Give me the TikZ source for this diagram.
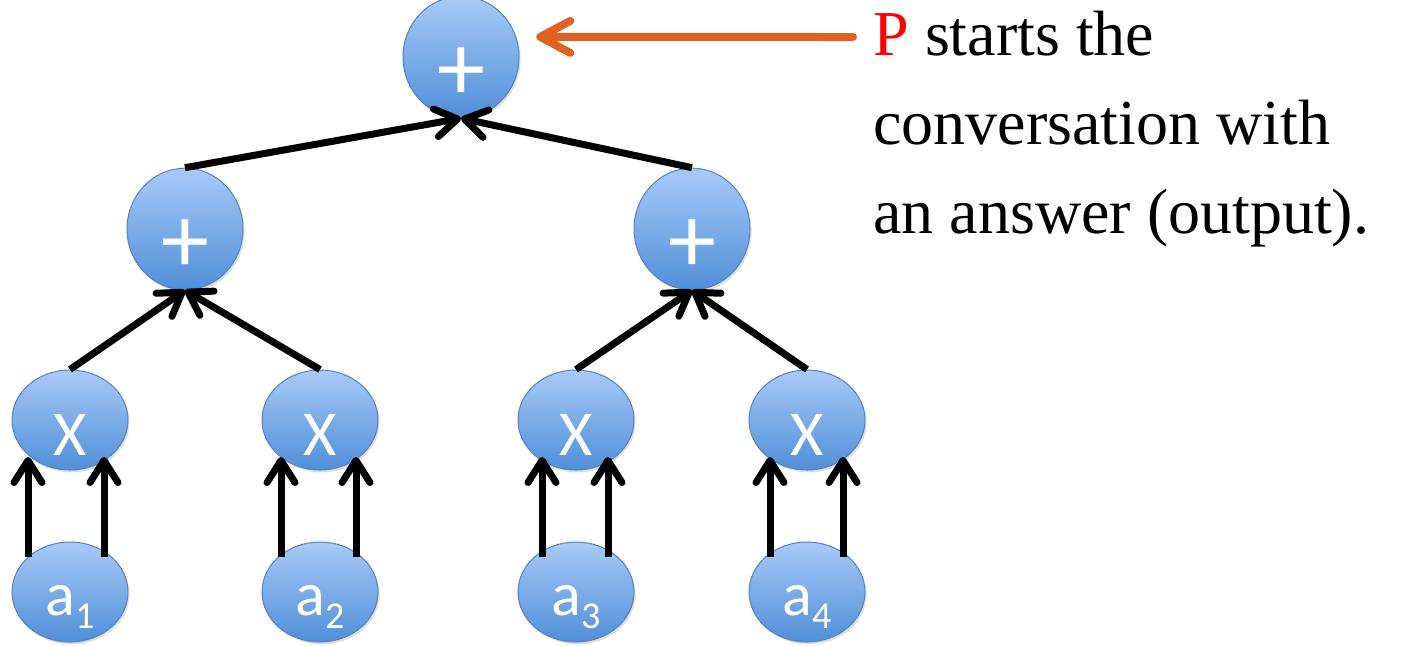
\documentclass[tikz,border=0pt]{standalone}
\usepackage{fontspec}
\setmainfont{Liberation Serif}
\newfontfamily\nodefont{Carlito}
\usetikzlibrary{arrows.meta,shadows,calc,shapes.geometric}
\definecolor{ntop}{RGB}{168,202,248}
\definecolor{nbot}{RGB}{80,143,216}
\definecolor{nborder}{RGB}{84,130,196}
\definecolor{oarrow}{RGB}{224,98,32}
\definecolor{pred}{RGB}{255,0,0}
\begin{document}
\begin{tikzpicture}[x=0.5pt,y=-0.5pt,
  bubble/.style={ellipse, minimum width=58pt, minimum height=50pt, inner sep=0pt,
    top color=ntop, bottom color=nbot, draw=nborder, line width=0.5pt, text=white,
    drop shadow={shadow xshift=0.8pt, shadow yshift=-1.2pt, opacity=0.25}},
  plusnode/.style={bubble, font=\nodefont\fontsize{48}{48}\selectfont, text height=43pt, text depth=0pt},
  timesnode/.style={bubble, font=\nodefont\fontsize{32}{32}\selectfont, text height=35pt, text depth=0pt},
  leafnode/.style={bubble, font=\nodefont\fontsize{31}{31}\selectfont, text height=23pt, text depth=0pt},
  arr/.style={line width=3.5pt, black, -{Straight Barb[length=11pt,width=14pt,round]}},
  oarr/.style={line width=4pt, oarrow, line cap=round, -{Straight Barb[length=15pt,width=16pt,round]}},
  desc/.style={anchor=base west, inner sep=0pt, align=left, font=\fontsize{32}{44.5}\selectfont}
]
\newcommand{\leaf}[1]{a{\fontsize{19}{19}\selectfont\raisebox{-6.5pt}{#1}}}
\useasboundingbox (0,0) rectangle (1408,645);

\node[plusnode] (top) at (461,57) {+};
\node[plusnode] (L) at (185,229) {+};
\node[plusnode] (R) at (692,229) {+};
\node[timesnode] (x1) at (70,420) {X};
\node[timesnode] (x2) at (320,420) {X};
\node[timesnode] (x3) at (576,420) {X};
\node[timesnode] (x4) at (807,420) {X};
\node[leafnode] (a1) at (70,592) {\leaf{1}};
\node[leafnode] (a2) at (320,592) {\leaf{2}};
\node[leafnode] (a3) at (576,592) {\leaf{3}};
\node[leafnode] (a4) at (807,592) {\leaf{4}};

\draw[arr] (L.north) -- (top.south);
\draw[arr] (R.north) -- (top.south);
\draw[arr] (x1.north) -- (L.south);
\draw[arr] (x2.north) -- (L.south);
\draw[arr] (x3.north) -- (R.south);
\draw[arr] (x4.north) -- (R.south);

\draw[arr] ($(a1.center)+(-42,-35)$) -- ($(x1.center)+(-42,37)$);
\draw[arr] ($(a1.center)+(34,-35)$) -- ($(x1.center)+(34,37)$);
\draw[arr] ($(a2.center)+(-39,-35)$) -- ($(x2.center)+(-39,37)$);
\draw[arr] ($(a2.center)+(36,-35)$) -- ($(x2.center)+(36,37)$);
\draw[arr] ($(a3.center)+(-34,-35)$) -- ($(x3.center)+(-34,37)$);
\draw[arr] ($(a3.center)+(32,-35)$) -- ($(x3.center)+(32,37)$);
\draw[arr] ($(a4.center)+(-37,-35)$) -- ($(x4.center)+(-37,37)$);
\draw[arr] ($(a4.center)+(36,-35)$) -- ($(x4.center)+(36,37)$);

\node[desc] (txt) at (873,233) {{\color{pred}P} starts the\\conversation with\\an answer (output).};
\coordinate (ostart) at (853,37);
\draw[oarr, shorten >=10pt] (ostart) -- (top.20);
\end{tikzpicture}
\end{document}
